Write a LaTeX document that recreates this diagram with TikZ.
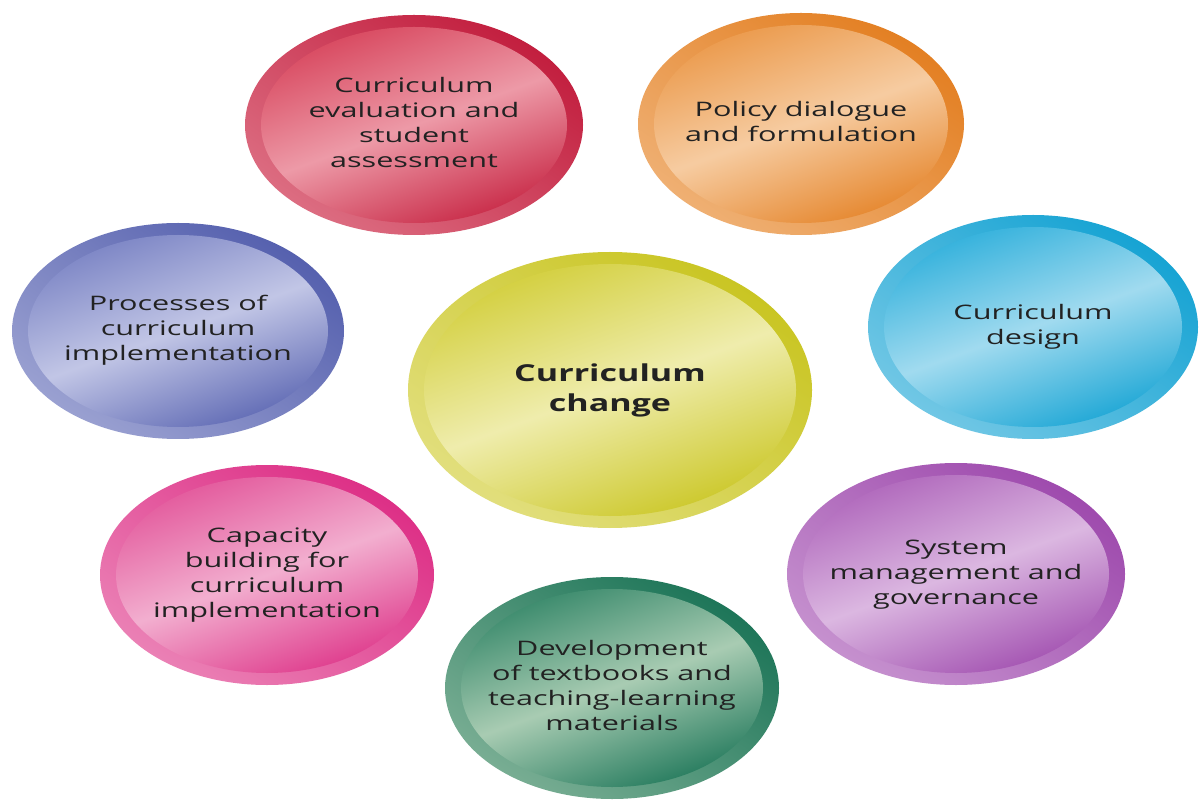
\documentclass[tikz,border=0pt]{standalone}
\usepackage{fontspec}
\setmainfont{Open Sans}
\usepackage{graphicx}
\definecolor{txt}{HTML}{222222}
\definecolor{redD}{HTML}{C21E3E}\definecolor{redM}{HTML}{D8485F}\definecolor{redL}{HTML}{F2AEB9}
\definecolor{oraD}{HTML}{E37F22}\definecolor{oraM}{HTML}{EB9A4C}\definecolor{oraL}{HTML}{F9D8B6}
\definecolor{bluD}{HTML}{5560AE}\definecolor{bluM}{HTML}{7C85C5}\definecolor{bluL}{HTML}{D3D6EE}
\definecolor{cyaD}{HTML}{16A3D3}\definecolor{cyaM}{HTML}{33B1DC}\definecolor{cyaL}{HTML}{BCE5F4}
\definecolor{yelD}{HTML}{C9C522}\definecolor{yelM}{HTML}{D3CF3E}\definecolor{yelL}{HTML}{F6F4C8}
\definecolor{pinD}{HTML}{DD2F86}\definecolor{pinM}{HTML}{E3599C}\definecolor{pinL}{HTML}{F6C4DC}
\definecolor{purD}{HTML}{9E4AAD}\definecolor{purM}{HTML}{B068BC}\definecolor{purL}{HTML}{E6CBEA}
\definecolor{grnD}{HTML}{1D7558}\definecolor{grnM}{HTML}{3A8A6C}\definecolor{grnL}{HTML}{C4DCC4}
\tikzset{
  lbl/.style={inner sep=0pt, text=txt, font=\fontsize{15}{18.75}\selectfont},
  lblc/.style={inner sep=0pt, text=txt, font=\fontsize{17.5}{22.5}\selectfont\bfseries}
}
% name, x, y, rx, ry, colour prefix, xstretch, style, text
\newcommand{\bubble}[9]{%
  \shade[top color=#6D, bottom color=#6L!55!#6D, shading angle=-35]
    (#2,#3) ellipse [x radius=#4, y radius=#5];
  \shade[top color=#6M, bottom color=#6D!70!#6M, middle color=#6L!80!#6M, shading angle=20]
    (#2,#3) ellipse [x radius=#4-16, y radius=#5-12];
  \node[#8] (#1) at (#2,#3) {\scalebox{#7}[1]{\begin{tabular}{@{}c@{}}#9\end{tabular}}};
}
\begin{document}
\begin{tikzpicture}[x=0.75pt,y=0.75pt]
\fill[white] (0,0) rectangle (1201,800);
\useasboundingbox (0,0) rectangle (1201,800);
\bubble{eval}{414}{675}{169}{110}{red}{1.53}{lbl}{Curriculum\\evaluation and\\student\\assessment}
\bubble{policy}{801}{676}{163}{111}{ora}{1.53}{lbl}{Policy dialogue\\and formulation}
\bubble{proc}{178}{469}{166}{108}{blu}{1.53}{lbl}{Processes of\\curriculum\\implementation}
\bubble{design}{1033}{473}{165}{112}{cya}{1.53}{lbl}{Curriculum\\design}
\bubble{change}{610}{410}{202}{138}{yel}{1.46}{lblc}{Curriculum\\change}
\bubble{cap}{267}{225}{167}{110}{pin}{1.53}{lbl}{Capacity\\building for\\curriculum\\implementation}
\bubble{sys}{956}{226}{169}{111}{pur}{1.53}{lbl}{System\\management and\\governance}
\bubble{dev}{612}{112}{167}{111}{grn}{1.53}{lbl}{Development\\of textbooks and\\teaching-learning\\materials}
\end{tikzpicture}
\end{document}
